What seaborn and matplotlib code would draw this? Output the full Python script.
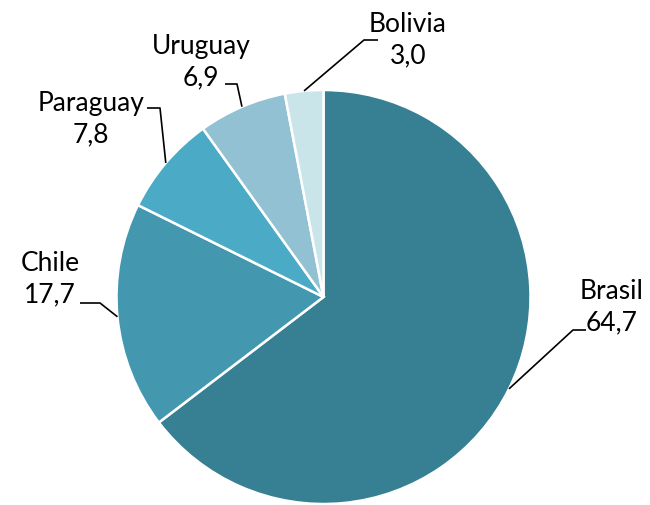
import numpy as np
import matplotlib
matplotlib.use("Agg")
import matplotlib.pyplot as plt
import seaborn as sns

# data
paises = ["Brasil", "Chile", "Paraguay", "Uruguay", "Bolivia"]
valores = [64.7, 17.7, 7.8, 6.9, 3.0]
etiquetas = ["64,7", "17,7", "7,8", "6,9", "3,0"]
colores = ["#377f93", "#4398b0", "#4babc6", "#92c1d3", "#c9e5ea"]

sns.set_style("white")
plt.rcParams['font.family'] = ['Lato', 'DejaVu Sans']

W, H = 650, 505
fig = plt.figure(figsize=(6.5, 5.05), dpi=100)
ax = fig.add_axes([0, 0, 1, 1])

cx, cy, r = 323.5, H - 297, 207
ax.pie(valores, colors=colores, startangle=90, counterclock=False,
       center=(cx, cy), radius=r, frame=True,
       wedgeprops=dict(edgecolor='white', linewidth=1.8))
ax.set_xlim(0, W)
ax.set_ylim(0, H)
ax.set_aspect('equal')
ax.axis('off')

# label layout (pixel coords, y from top): elbow point, line end, text center
layout = {
    "Brasil":   dict(elbow=(573, 330), end=(586, 330), text=(612, 307)),
    "Chile":    dict(elbow=(100, 303), end=(80, 303), text=(50, 279)),
    "Paraguay": dict(elbow=(160, 108), end=(147, 108), text=(91, 119)),
    "Uruguay":  dict(elbow=(237, 84), end=(225, 84), text=(201, 62)),
    "Bolivia":  dict(elbow=(364, 40), end=(378, 40), text=(408, 40)),
}

tot = sum(valores)
acum = 0
for nombre, v, lab in zip(paises, valores, etiquetas):
    mid = acum + v / 2
    acum += v
    ang = np.deg2rad(90 - 360 * mid / tot)
    ax_pt = (cx + r * np.cos(ang), cy + r * np.sin(ang))
    lo = layout[nombre]
    xs = [ax_pt[0], lo["elbow"][0], lo["end"][0]]
    ys = [ax_pt[1], H - lo["elbow"][1], H - lo["end"][1]]
    ax.plot(xs, ys, color='black', lw=1.2, solid_capstyle='butt')
    ax.text(lo["text"][0], H - lo["text"][1], f"{nombre}\n{lab}",
            ha='center', va='center', fontsize=19, linespacing=1.32,
            color='black')

fig.savefig("out.png", dpi=100)
